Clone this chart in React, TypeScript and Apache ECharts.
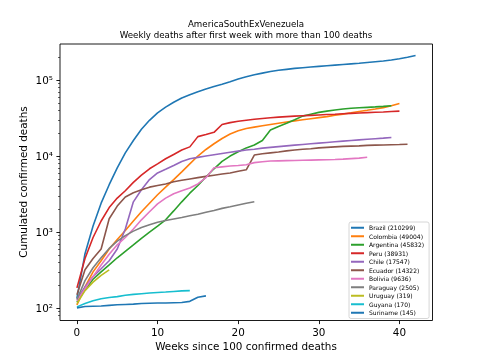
import React, { useEffect, useRef } from "react";
import * as echarts from "echarts";

const title1 = "AmericaSouthExVenezuela";
const title2 = "Weekly deaths after first week with more than 100 deaths";
const xLabel = "Weeks since 100 confirmed deaths";
const yLabel = "Cumulated confirmed deaths";

const countries = ["Brazil", "Colombia", "Argentina", "Peru", "Chile", "Ecuador", "Bolivia", "Paraguay", "Uruguay", "Guyana", "Suriname"];
const totals = [210299, 49004, 45832, 38931, 17547, 14322, 9636, 2505, 319, 170, 145];
const colors = ["#1f77b4", "#ff7f0e", "#2ca02c", "#d62728", "#9467bd", "#8c564b", "#e377c2", "#7f7f7f", "#bcbd22", "#17becf", "#1f77b4"];

const brazil = [135, 520, 1200, 2400, 4200, 7000, 11000, 16000, 22500, 29500, 37000, 44000, 51000, 58000, 64000, 70000, 76000, 82000, 88000, 95000, 103000, 110000, 117000, 123000, 129000, 134000, 138000, 142000, 145000, 148000, 151000, 154000, 157000, 160000, 163000, 166000, 170000, 174000, 178000, 183000, 190000, 199000, 210299];
const colombia = [110, 190, 300, 420, 600, 800, 1050, 1400, 1850, 2400, 3100, 3900, 4900, 6200, 7900, 10000, 12200, 14500, 17000, 19500, 21500, 23000, 24000, 25000, 26000, 27000, 28000, 29000, 30000, 31000, 32000, 33000, 34300, 35600, 37000, 38500, 40000, 41600, 43300, 45800, 49004];
const argentina = [120, 175, 240, 300, 370, 460, 560, 680, 830, 1000, 1200, 1450, 1900, 2500, 3250, 4100, 5300, 6800, 8500, 10000, 11400, 12800, 14000, 16000, 22000, 24500, 27000, 30000, 33500, 35500, 37500, 39000, 40300, 41500, 42400, 43100, 43700, 44300, 45000, 45832];
const peru = [185, 450, 850, 1400, 2100, 2800, 3500, 4500, 5600, 6800, 7900, 9200, 10500, 12000, 13200, 18000, 19200, 20500, 26000, 27500, 28700, 29600, 30400, 31200, 31900, 32500, 33000, 33500, 33900, 34300, 34700, 35100, 35500, 36000, 36400, 36800, 37200, 37600, 38000, 38500, 38931];
const chile = [130, 190, 260, 330, 420, 600, 1100, 2500, 3600, 4900, 6000, 6700, 7500, 8500, 9200, 9600, 10000, 10400, 10800, 11200, 11600, 12000, 12300, 12700, 13000, 13300, 13600, 13900, 14200, 14500, 14800, 15100, 15400, 15700, 16000, 16300, 16600, 16900, 17200, 17547];
const ecuador = [150, 320, 450, 600, 1500, 2200, 2900, 3300, 3600, 3900, 4100, 4300, 4600, 4800, 5000, 5200, 5400, 5600, 5800, 6000, 6300, 6600, 10300, 10700, 11000, 11300, 11700, 12000, 12300, 12500, 12800, 13000, 13200, 13400, 13500, 13600, 13800, 13900, 14000, 14100, 14200, 14322];
const bolivia = [125, 180, 260, 370, 510, 680, 850, 1100, 1450, 1850, 2350, 2800, 3200, 3500, 3800, 4300, 5200, 7000, 7200, 7400, 7500, 7700, 8200, 8400, 8600, 8650, 8700, 8750, 8800, 8850, 8900, 8950, 9000, 9100, 9250, 9400, 9636];
const paraguay = [130, 230, 340, 460, 610, 760, 900, 1030, 1150, 1250, 1350, 1420, 1490, 1560, 1640, 1720, 1820, 1920, 2050, 2150, 2270, 2390, 2505];
const uruguay = [115, 170, 220, 270, 319];
const guyana = [104, 115, 125, 133, 138, 142, 148, 152, 155, 158, 161, 163, 166, 169, 170];
const suriname = [101, 105, 106, 107, 109, 111, 112, 113, 115, 116, 117, 117, 118, 119, 123, 139, 145];

const allSeries = [brazil, colombia, argentina, peru, chile, ecuador, bolivia, paraguay, uruguay, guyana, suriname];

const xTicks = [0, 10, 20, 30, 40];
const yMajor = [100, 1000, 10000, 100000];
const yMinor = [80, 90, 200, 300, 400, 500, 600, 700, 800, 900, 2000, 3000, 4000, 5000, 6000, 7000, 8000, 9000, 20000, 30000, 40000, 50000, 60000, 70000, 80000, 90000, 200000];
const supers: Record<string, string> = { "2": "²", "3": "³", "4": "⁴", "5": "⁵" };

const FONT = "DejaVu Sans";

export default function App() {
  const ref = useRef<HTMLDivElement>(null);
  useEffect(() => {
    if (!ref.current) return;
    const chart = echarts.init(ref.current, null, { renderer: "svg" });
    const yMin = 1.838;
    const yMax = 5.473;
    const option: any = {
      animation: false,
      textStyle: { fontFamily: FONT },
      grid: { left: 60, right: 47.5, top: 44, bottom: 39.5, show: true, borderColor: "#000", borderWidth: 0.9, backgroundColor: "transparent" },
      xAxis: {
        type: "value",
        min: -2.1,
        max: 44.1,
        axisLine: { show: false, onZero: false },
        splitLine: { show: false },
        axisTick: { show: true, length: 3.6, lineStyle: { color: "#000", width: 0.9 }, customValues: xTicks },
        axisLabel: { customValues: xTicks, color: "#000", fontSize: 10.4, fontFamily: FONT, margin: 6 },
      },
      yAxis: [
        {
          type: "value",
          min: yMin,
          max: yMax,
          axisLine: { show: false, onZero: false },
          splitLine: { show: false },
          axisTick: { show: true, length: 3.6, lineStyle: { color: "#000", width: 0.9 }, customValues: yMajor.map((v) => Math.log10(v)) },
          axisLabel: {
            customValues: yMajor.map((v) => Math.log10(v)),
            color: "#000",
            fontSize: 10.4,
            fontFamily: FONT,
            margin: 7,
            formatter: (v: number) => "10" + supers[String(Math.round(v))],
          },
        },
        {
          type: "value",
          min: yMin,
          max: yMax,
          position: "left",
          offset: 0,
          axisLine: { show: false, onZero: false },
          splitLine: { show: false },
          axisLabel: { show: false },
          axisTick: { show: true, length: 2, lineStyle: { color: "#000", width: 0.6 }, customValues: yMinor.map((v) => Math.log10(v)) },
        },
      ],
      legend: {
        orient: "vertical",
        left: 349,
        top: 222,
        padding: [1.5, 5, 1.5, 2],
        itemGap: 0,
        itemWidth: 13,
        itemHeight: 2,
        icon: "rect",
        backgroundColor: "#fff",
        borderColor: "#cccccc",
        borderWidth: 0.8,
        borderRadius: 2,
        textStyle: { fontSize: 6.03, fontFamily: FONT, color: "#000", lineHeight: 8.5 },
        data: countries.map((c, i) => c + " (" + totals[i] + ")"),
      },
      series: allSeries.map((arr, i) => ({
        type: "line",
        name: countries[i] + " (" + totals[i] + ")",
        data: arr.map((v, w) => [w, Math.log10(v)]),
        showSymbol: false,
        symbol: "none",
        lineStyle: { width: 1.6, color: colors[i] },
        itemStyle: { color: colors[i] },
        z: 2 + i,
      })),
      graphic: [
        { type: "text", x: 246, y: 24, style: { text: title1, fontSize: 8.68, fontFamily: FONT, fill: "#000", textAlign: "center", textVerticalAlign: "middle" } },
        { type: "text", x: 246, y: 34.5, style: { text: title2, fontSize: 8.68, fontFamily: FONT, fill: "#000", textAlign: "center", textVerticalAlign: "middle" } },
        { type: "text", x: 246, y: 346, style: { text: xLabel, fontSize: 10.4, fontFamily: FONT, fill: "#000", textAlign: "center", textVerticalAlign: "middle" } },
        { type: "text", x: 23, y: 182, rotation: Math.PI / 2, style: { text: yLabel, fontSize: 10.4, fontFamily: FONT, fill: "#000", textAlign: "center", textVerticalAlign: "middle" } },
      ],
    };
    chart.setOption(option);
    return () => chart.dispose();
  }, []);
  return <div ref={ref} style={{ width: 480, height: 360, position: "fixed", left: 0, top: 0 }} />;
}
